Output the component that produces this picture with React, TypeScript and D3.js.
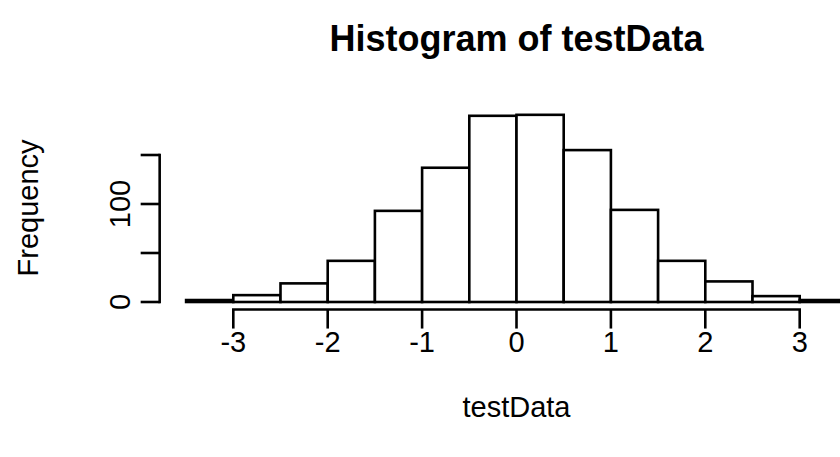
import * as React from "react";
import * as d3 from "d3";

// bin edges of hist(testData), breaks every 0.5
const binStarts = [-3.5, -3, -2.5, -2, -1.5, -1, -0.5, 0, 0.5, 1, 1.5, 2, 2.5, 3];
const counts = [2, 7, 19, 42, 93, 137, 190, 191, 155, 94, 42, 21, 6, 2];
const xTicks = [-3, -2, -1, 0, 1, 2, 3];
const yTicks = [0, 50, 100, 150];
const yTickLabels = ["0", "", "100", ""];

const title = "Histogram of testData";
const xTitle = "testData";
const yTitle = "Frequency";

function drawChart(svgRef: React.RefObject<SVGSVGElement | null>) {
  const width = 840;
  const height = 457;
  const binWidth = 0.5;
  const font = "'Liberation Sans', Arial, Helvetica, sans-serif";
  const lw = 2.6;

  const x = d3.scaleLinear().domain([-3, 3]).range([233.3, 799.7]);
  const y = d3.scaleLinear().domain([0, 150]).range([302, 155]);

  const plotLeft = x(-3.78);
  const plotBottom = y(-7.7);
  const plotRight = x(3.78);

  const svg = d3
    .select(svgRef.current)
    .attr("width", width)
    .attr("height", height);

  svg.selectAll("*").remove();

  svg.append("rect").attr("width", width).attr("height", height).attr("fill", "#fff");

  const data = binStarts.map((b, i) => ({ start: b, count: counts[i] }));

  svg
    .append("g")
    .selectAll("rect")
    .data(data)
    .enter()
    .append("rect")
    .attr("x", (d) => x(d.start))
    .attr("y", (d) => y(d.count))
    .attr("width", (d) => x(d.start + binWidth) - x(d.start))
    .attr("height", (d) => y(0) - y(d.count))
    .attr("fill", "#fff")
    .attr("stroke", "#000")
    .attr("stroke-width", lw);

  // x axis, drawn like R's axis(1)
  const tickLen = 19;
  const xAxis = svg.append("g");
  xAxis
    .append("line")
    .attr("x1", x(xTicks[0]))
    .attr("x2", x(xTicks[xTicks.length - 1]))
    .attr("y1", plotBottom)
    .attr("y2", plotBottom)
    .attr("stroke", "#000")
    .attr("stroke-width", lw)
    .attr("stroke-linecap", "square");
  xAxis
    .selectAll(".tick")
    .data(xTicks)
    .enter()
    .append("line")
    .attr("x1", (d) => x(d))
    .attr("x2", (d) => x(d))
    .attr("y1", plotBottom)
    .attr("y2", plotBottom + tickLen)
    .attr("stroke", "#000")
    .attr("stroke-width", lw);
  xAxis
    .selectAll(".lbl")
    .data(xTicks)
    .enter()
    .append("text")
    .text((d) => String(d))
    .attr("x", (d) => x(d))
    .attr("y", 352)
    .attr("text-anchor", "middle")
    .attr("font-family", font)
    .attr("font-size", 29)
    .attr("fill", "#000");

  // y axis
  const yAxis = svg.append("g");
  yAxis
    .append("line")
    .attr("x1", plotLeft)
    .attr("x2", plotLeft)
    .attr("y1", y(yTicks[0]))
    .attr("y2", y(yTicks[yTicks.length - 1]))
    .attr("stroke", "#000")
    .attr("stroke-width", lw)
    .attr("stroke-linecap", "square");
  yAxis
    .selectAll(".tick")
    .data(yTicks)
    .enter()
    .append("line")
    .attr("x1", plotLeft - tickLen)
    .attr("x2", plotLeft)
    .attr("y1", (d) => y(d))
    .attr("y2", (d) => y(d))
    .attr("stroke", "#000")
    .attr("stroke-width", lw);
  yAxis
    .selectAll(".lbl")
    .data(yTicks)
    .enter()
    .append("text")
    .text((d, i) => yTickLabels[i])
    .attr("transform", (d) => `translate(130, ${y(d)}) rotate(-90)`)
    .attr("text-anchor", "middle")
    .attr("font-family", font)
    .attr("font-size", 29)
    .attr("fill", "#000");

  // titles
  svg
    .append("text")
    .text(title)
    .attr("x", (plotLeft + plotRight) / 2)
    .attr("y", 51)
    .attr("text-anchor", "middle")
    .attr("font-family", font)
    .attr("font-weight", "bold")
    .attr("font-size", 36)
    .attr("fill", "#000");

  svg
    .append("text")
    .text(xTitle)
    .attr("x", (plotLeft + plotRight) / 2)
    .attr("y", 417)
    .attr("text-anchor", "middle")
    .attr("font-family", font)
    .attr("font-size", 29)
    .attr("fill", "#000");

  svg
    .append("text")
    .text(yTitle)
    .attr("transform", `translate(38, ${(y(-7.7) + y(199.7)) / 2}) rotate(-90)`)
    .attr("text-anchor", "middle")
    .attr("font-family", font)
    .attr("font-size", 29)
    .attr("fill", "#000");
}

const App = () => {
  const svgRef = React.useRef<SVGSVGElement>(null);

  React.useEffect(() => {
    drawChart(svgRef);
  }, [svgRef]);

  return (
    <div style={{ position: "absolute", left: 0, top: 0 }}>
      <svg ref={svgRef} style={{ display: "block" }} />
    </div>
  );
};

export default App;
